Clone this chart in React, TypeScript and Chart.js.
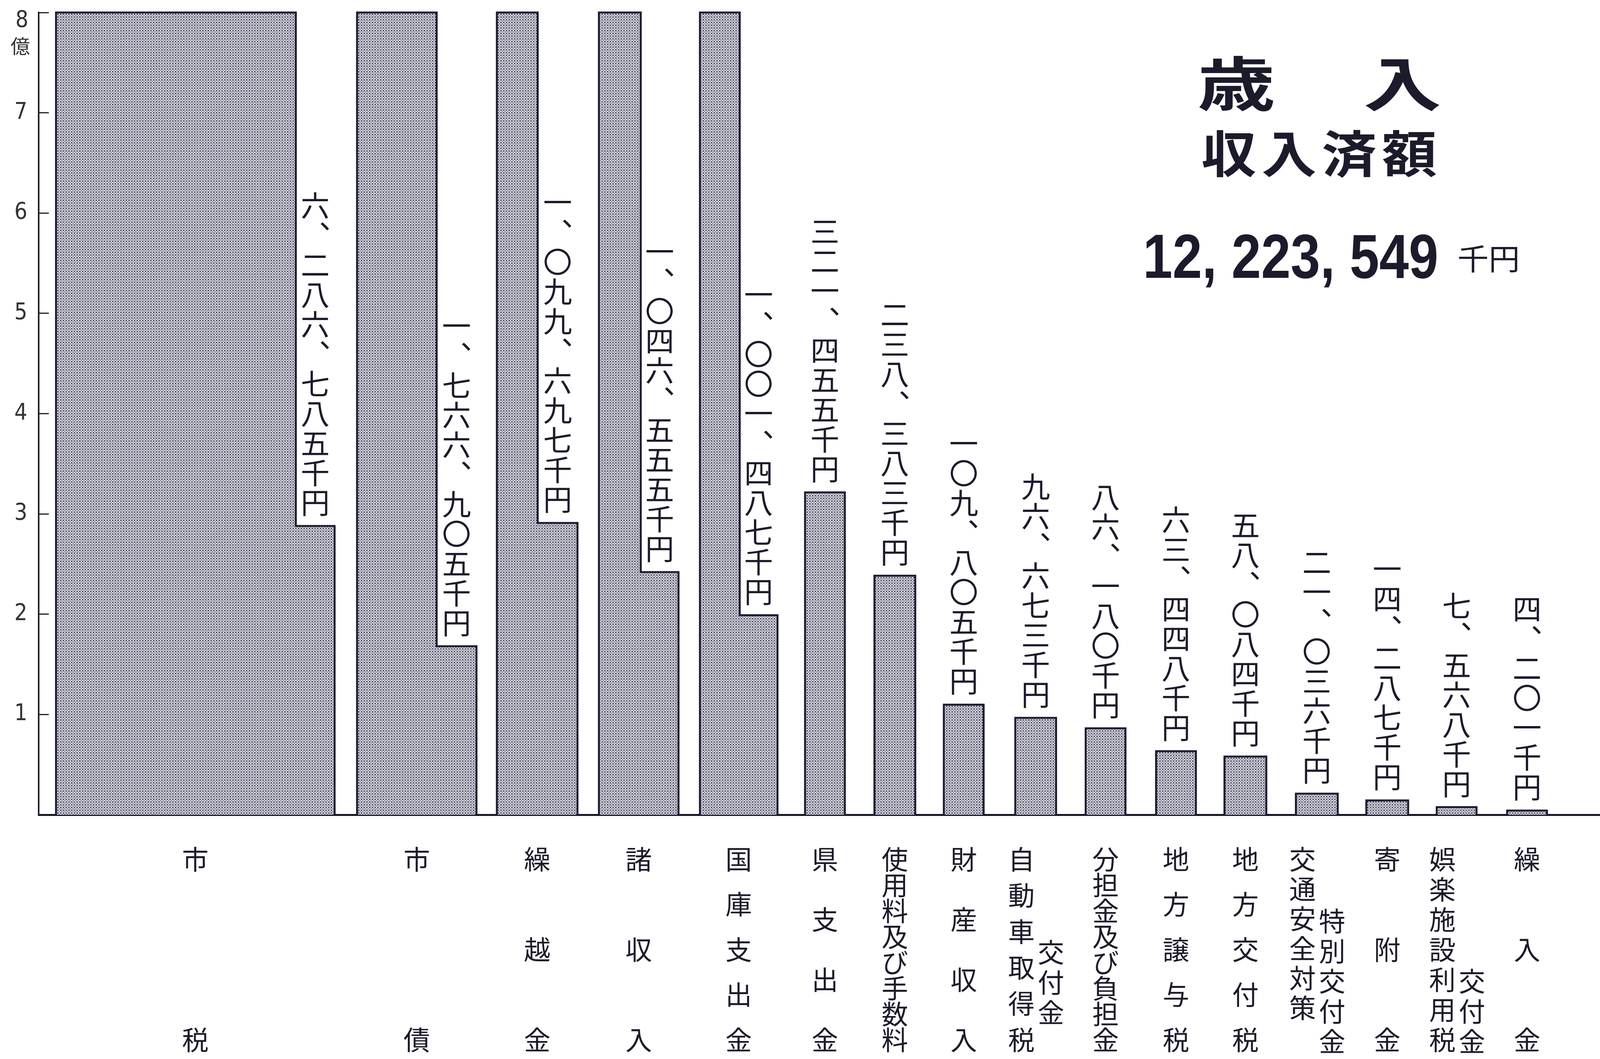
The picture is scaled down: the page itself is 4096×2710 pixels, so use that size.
import React, { useEffect, useRef } from 'react';
import { Chart, registerables } from 'chart.js';

Chart.register(...registerables);

// ---------------- data ----------------
const CATEGORIES = [
  '市税', '市債', '繰越金', '諸収入', '国庫支出金', '県支出金', '使用料及び手数料', '財産収入',
  '自動車取得税交付金', '分担金及び負担金', '地方譲与税', '地方交付税', '交通安全対策特別交付金',
  '寄附金', '娯楽施設利用税交付金', '繰入金',
];
// amounts in 千円
const AMOUNTS = [
  6286785, 1766905, 1099697, 1046555, 1001487, 321455, 238383, 109805,
  96673, 86180, 63448, 58084, 21036, 14287, 7568, 4201,
];
const Y_TICKS = [0, 1, 2, 3, 4, 5, 6, 7, 8];
const Y_UNIT = '億';
const VALUE_UNIT = '千円';
const TITLE_CHARS = ['歳', '入'];
const SUBTITLE = '収入済額';
const TOTAL_TEXT = '12, 223, 549';
const TOTAL_UNIT = '千円';

// ---------------- layout ----------------
const W = 4096;
const H = 2710;
const X_MAX = 1530;
const Y_MAX = 8;
const SEN_PER_OKU = 100000; // 1億 = 100,000千円

const BAR_LEFT = [17, 312, 449, 549, 648, 751, 819, 887, 957, 1026, 1095, 1162, 1232, 1301, 1370, 1439];
const BAR_RIGHT = [290, 429, 528, 627, 724, 790, 859, 926, 997, 1065, 1134, 1203, 1273, 1342, 1409, 1478];
// right edge of the full-height part of bars that run off the axis
const BAR_STEP = [252, 390, 489, 590, 687, null, null, null, null, null, null, null, null, null, null, null];
// level of the cut-out shoulder that carries the label (axis units)
const NOTCH_LEVEL = [2.88, 1.68, 2.91, 2.42, 1.99, null, null, null, null, null, null, null, null, null, null, null];
// category label: chars in main column (rest go into a side column)
const MAIN_LEN = [0, 0, 0, 0, 0, 0, 0, 0, 6, 0, 0, 0, 6, 0, 7, 0];
const MAIN_PITCH = [0, 0, 0, 0, 0, 0, 0, 0, 0, 0, 0, 0, 76, 0, 0, 0];
const SIDE_END = [0, 0, 0, 0, 0, 0, 0, 0, 506, 0, 0, 0, 580, 0, 580, 0];

const CJK = "'Noto Sans CJK JP', 'Noto Sans CJK SC', sans-serif";
const NUM_FONT = "'Liberation Sans Narrow', 'DejaVu Sans Condensed', 'Liberation Sans', sans-serif";
const INK = '#1b1b2b';
const VAL_FONT = 74;
const VAL_PITCH = 76;
const CAT_FONT = 68;

const KANJI = ['〇', '一', '二', '三', '四', '五', '六', '七', '八', '九'];
function toKanji(n: number): string {
  return n
    .toLocaleString('en-US')
    .split('')
    .map((c) => (c === ',' ? '、' : KANJI[Number(c)]))
    .join('');
}

function drawVChar(ctx: CanvasRenderingContext2D, ch: string, cx: number, cy: number, size: number) {
  if (ch === '、') {
    ctx.textAlign = 'left';
    ctx.textBaseline = 'alphabetic';
    const m = ctx.measureText(ch);
    const ix = (m.actualBoundingBoxRight - m.actualBoundingBoxLeft) / 2;
    const iy = (m.actualBoundingBoxDescent - m.actualBoundingBoxAscent) / 2;
    ctx.fillText(ch, cx + 0.33 * size - ix, cy - 0.3 * size - iy);
  } else {
    ctx.textAlign = 'center';
    ctx.textBaseline = 'middle';
    ctx.fillText(ch, cx, cy);
  }
}

function drawStretched(ctx: CanvasRenderingContext2D, text: string, x: number, y: number, sx: number) {
  ctx.save();
  ctx.translate(x, y);
  ctx.scale(sx, 1);
  ctx.fillText(text, 0, 0);
  ctx.restore();
}

const labelPlugin = {
  id: 'verticalLabels',
  afterDraw(chart: any) {
    const { ctx, chartArea } = chart;
    const xs = chart.scales.x;
    const ys = chart.scales.y;
    ctx.save();
    ctx.fillStyle = INK;

    // value labels
    ctx.font = `${VAL_FONT}px ${CJK}`;
    AMOUNTS.forEach((amt, i) => {
      const v = amt / SEN_PER_OKU;
      const tall = v > Y_MAX && NOTCH_LEVEL[i] != null;
      const cu = tall ? ((BAR_STEP[i] as number) + BAR_RIGHT[i]) / 2 : (BAR_LEFT[i] + BAR_RIGHT[i]) / 2;
      const top = ys.getPixelForValue(tall ? (NOTCH_LEVEL[i] as number) : v);
      const chars = Array.from(toKanji(amt) + VALUE_UNIT);
      const cx = xs.getPixelForValue(cu);
      const lastY = top - 60;
      chars.forEach((ch, k) => drawVChar(ctx, ch, cx, lastY - (chars.length - 1 - k) * VAL_PITCH, VAL_FONT));
    });

    // category labels
    ctx.font = `${CAT_FONT}px ${CJK}`;
    const base = chartArea.bottom;
    const topY = base + 114;
    const botY = base + 576;
    CATEGORIES.forEach((name, i) => {
      const chars = Array.from(name);
      const split = MAIN_LEN[i] || chars.length;
      const main = chars.slice(0, split);
      const side = chars.slice(split);
      const cu = (BAR_LEFT[i] + BAR_RIGHT[i]) / 2;
      const mx = xs.getPixelForValue(cu + (side.length ? -14 : 0));
      main.forEach((ch, k) => {
        let cy: number;
        if (MAIN_PITCH[i]) cy = topY + k * MAIN_PITCH[i];
        else cy = main.length === 1 ? topY : topY + (k * (botY - topY)) / (main.length - 1);
        drawVChar(ctx, ch, mx, cy, CAT_FONT);
      });
      if (side.length) {
        const sxp = xs.getPixelForValue(cu + 15);
        const end = base + SIDE_END[i];
        side.forEach((ch, k) => drawVChar(ctx, ch, sxp, end - (side.length - 1 - k) * 77, CAT_FONT));
      }
    });

    // top tick label + unit
    ctx.fillStyle = '#333';
    ctx.font = `58px ${NUM_FONT}`;
    ctx.textAlign = 'center';
    ctx.textBaseline = 'middle';
    ctx.fillText(String(Y_MAX), 56, 54);
    ctx.font = `50px ${CJK}`;
    ctx.fillText(Y_UNIT, 52, 118);

    // title block
    ctx.fillStyle = INK;
    ctx.textAlign = 'center';
    ctx.textBaseline = 'middle';
    ctx.font = `bold 150px ${CJK}`;
    const titleX = [3165, 3590];
    TITLE_CHARS.forEach((ch, k) => drawStretched(ctx, ch, titleX[k], 214, 1.33));

    ctx.font = `bold 128px ${CJK}`;
    Array.from(SUBTITLE).forEach((ch, k) => drawStretched(ctx, ch, 3146 + k * 154, 393, 1.1));

    ctx.font = `bold 160px 'Liberation Sans', Arial, sans-serif`;
    ctx.textAlign = 'left';
    ctx.textBaseline = 'alphabetic';
    drawStretched(ctx, TOTAL_TEXT, 2926, 711, 0.85);

    ctx.font = `76px ${CJK}`;
    ctx.textAlign = 'center';
    ctx.textBaseline = 'middle';
    drawStretched(ctx, TOTAL_UNIT, 3811, 662, 1.05);

    ctx.restore();
  },
};

export default function App() {
  const canvasRef = useRef<HTMLCanvasElement | null>(null);

  useEffect(() => {
    const canvas = canvasRef.current;
    if (!canvas) return;
    const ctx = canvas.getContext('2d') as CanvasRenderingContext2D;

    const tile = document.createElement('canvas');
    tile.width = 7;
    tile.height = 7;
    const t = tile.getContext('2d') as CanvasRenderingContext2D;
    t.fillStyle = '#bfbfcb';
    t.fillRect(0, 0, 7, 7);
    t.fillStyle = '#3a3a4c';
    t.fillRect(0, 0, 3, 3);
    t.fillStyle = '#6c6c7a';
    t.fillRect(4, 4, 2, 2);
    t.fillStyle = '#e4e4ec';
    t.fillRect(4, 0, 2, 2);
    t.fillRect(0, 4, 2, 2);
    const pattern = ctx.createPattern(tile, 'repeat') as CanvasPattern;

    const datasets = AMOUNTS.map((amt, i) => {
      const v = amt / SEN_PER_OKU;
      const shown = Math.min(v, Y_MAX);
      const L = BAR_LEFT[i];
      const R = BAR_RIGHT[i];
      const pts =
        v > Y_MAX && BAR_STEP[i] != null
          ? [
              { x: L, y: 0 },
              { x: L, y: shown },
              { x: BAR_STEP[i] as number, y: shown },
              { x: BAR_STEP[i] as number, y: NOTCH_LEVEL[i] as number },
              { x: R, y: NOTCH_LEVEL[i] as number },
              { x: R, y: 0 },
            ]
          : [
              { x: L, y: 0 },
              { x: L, y: v },
              { x: R, y: v },
              { x: R, y: 0 },
            ];
      return {
        label: CATEGORIES[i],
        data: pts,
        borderColor: '#1c1c30',
        borderWidth: 5,
        borderJoinStyle: 'miter' as const,
        backgroundColor: pattern,
        fill: 'origin',
        pointRadius: 0,
        tension: 0,
        clip: false as any,
      };
    });

    const chart = new Chart(canvas, {
      type: 'line',
      data: { datasets: datasets as any },
      options: {
        animation: false,
        responsive: false,
        events: [],
        layout: { padding: { top: 32, left: 0, right: 0, bottom: 625 } },
        plugins: { legend: { display: false }, tooltip: { enabled: false } },
        scales: {
          x: {
            type: 'linear',
            min: 0,
            max: X_MAX,
            z: 1,
            ticks: { display: false },
            grid: { display: false },
            border: { display: true, color: '#15152a', width: 5 },
            afterFit: (s: any) => {
              s.height = 0;
              s.paddingLeft = 0;
              s.paddingRight = 0;
            },
          },
          y: {
            type: 'linear',
            position: 'left',
            min: 0,
            max: Y_MAX,
            z: 1,
            afterBuildTicks: (s: any) => {
              s.ticks = Y_TICKS.map((v) => ({ value: v }));
            },
            ticks: {
              callback: (v: any) => (v === 0 || v === Y_MAX ? '' : String(v)),
              font: { family: NUM_FONT, size: 58, lineHeight: 1 },
              color: '#333',
              padding: 55,
              crossAlign: 'near',
            },
            grid: {
              drawOnChartArea: false,
              drawTicks: true,
              tickLength: -26,
              tickColor: '#222',
              tickWidth: 3,
            },
            border: { display: true, color: '#1d1d2b', width: 4 },
            afterFit: (s: any) => {
              s.width = 99;
              s.paddingTop = 0;
              s.paddingBottom = 0;
            },
          },
        },
      } as any,
      plugins: [labelPlugin as any],
    });

    return () => chart.destroy();
  }, []);

  return (
    <div style={{ position: 'absolute', left: 0, top: 0, width: W, height: H, background: '#fff' }}>
      <canvas ref={canvasRef} width={W} height={H} style={{ width: W, height: H, display: 'block' }} />
    </div>
  );
}
